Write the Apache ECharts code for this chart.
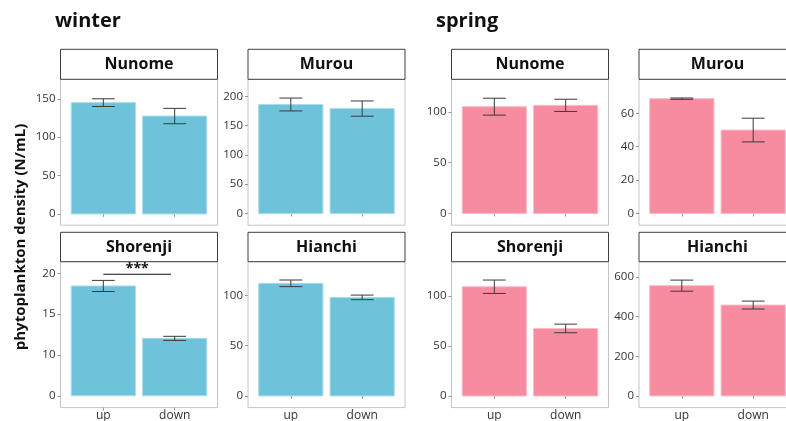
<!DOCTYPE html>
<html><head><meta charset="utf-8">
<script src="https://cdn.jsdelivr.net/npm/echarts@6/dist/echarts.min.js"></script>
<style>html,body{margin:0;padding:0;background:#fff}#c{width:786px;height:421px}</style>
</head><body><div id="c"></div><script>
// ---- data ----
const categories = ['up', 'down'];
const seasons = ['winter', 'spring'];
const sites = ['Nunome', 'Murou', 'Shorenji', 'Hianchi'];
const yTitle = 'phytoplankton density (N/mL)';

const winterUp = [145, 186, 18.45, 112];
const winterDown = [127.5, 179, 12.03, 98];
const winterUpErr = [5, 11, 0.68, 3.3];
const winterDownErr = [10, 13, 0.25, 2.3];

const springUp = [105, 68.8, 109, 557];
const springDown = [106.3, 50, 67.4, 459];
const springUpErr = [8.3, 0.4, 6.7, 28];
const springDownErr = [6, 7.1, 4.3, 20];

// y scale limits per panel (as drawn)
const winterYMin = [-14.7, -20, 3.55, -11.6];
const winterYMax = [175.4, 229, 21.42, 133.5];
const springYMin = [-11.5, -7, -11.6, -59];
const springYMax = [131.9, 80.4, 134, 678];

// bar baselines (winter Shorenji axis starts at the tick labelled "0")
const winterBase = [0, 0, 5, 0];
const springBase = [0, 0, 0, 0];

// tick values and their labels
const winterTicks = [[0, 50, 100, 150], [0, 50, 100, 150, 200], [5, 10, 15, 20], [0, 50, 100]];
const winterTickLabels = [['0', '50', '100', '150'], ['0', '50', '100', '150', '200'], ['0', '10', '15', '20'], ['0', '50', '100']];
const springTicks = [[0, 50, 100], [0, 20, 40, 60], [0, 50, 100], [0, 200, 400, 600]];
const springTickLabels = [['0', '50', '100'], ['0', '20', '40', '60'], ['0', '50', '100'], ['0', '200', '400', '600']];

// significance annotation (winter Shorenji)
const sigLabel = '***';
const sigFrom = 1.0, sigTo = 1.95, sigY = 19.88;

// ---- layout / style ----
const colLeft = [60.5, 248, 451.5, 639];
const panelW = 157;
const rowTop = [79.3, 261.7];
const panelH = 145.9;
const stripTop = [49.3, 232.3];
const seasonColor = ['#6EC3DB', '#F78BA0'];
const seasonEdge = ['#a9dcea', '#fbbcc8'];
const FONT = 'Open Sans';

const chart = echarts.init(document.getElementById('c'));
const grids = [], xAxes = [], yAxes = [], series = [], graphics = [];

const D = {
  winter: {up: winterUp, down: winterDown, upE: winterUpErr, downE: winterDownErr, min: winterYMin, max: winterYMax, base: winterBase, ticks: winterTicks, labels: winterTickLabels},
  spring: {up: springUp, down: springDown, upE: springUpErr, downE: springDownErr, min: springYMin, max: springYMax, base: springBase, ticks: springTicks, labels: springTickLabels}
};

seasons.forEach((season, si) => {
  const d = D[season];
  sites.forEach((site, k) => {
    const r = Math.floor(k / 2), c = k % 2;
    const gi = grids.length;
    const left = colLeft[si * 2 + c], top = rowTop[r];
    grids.push({left: left, top: top, width: panelW, height: panelH, show: true,
      borderColor: '#c4c4c4', borderWidth: 1, backgroundColor: '#fff', containLabel: false,
      outerBoundsMode: 'none'});
    xAxes.push({type: 'value', gridIndex: gi, min: 0.4, max: 2.6,
      axisLine: {show: false}, splitLine: {show: false},
      axisTick: {show: true, customValues: [1, 2], length: 3, lineStyle: {color: '#9a9a9a', width: 1}},
      axisLabel: {show: r === 1, customValues: [1, 2], formatter: v => categories[Math.round(v) - 1],
        color: '#333', fontFamily: FONT, fontSize: 12, margin: 2}});
    const ticks = d.ticks[k], labs = d.labels[k];
    yAxes.push({type: 'value', gridIndex: gi, min: d.min[k], max: d.max[k],
      axisLine: {show: false}, splitLine: {show: false},
      axisTick: {show: true, customValues: ticks, length: 3, lineStyle: {color: '#9a9a9a', width: 1}},
      axisLabel: {show: true, customValues: ticks, formatter: v => labs[ticks.indexOf(v)],
        color: '#333', fontFamily: FONT, fontSize: 11.5, margin: 5}});
    const base = d.base[k];
    const rows = [[1, d.up[k], d.upE[k]], [2, d.down[k], d.downE[k]]];
    series.push({type: 'custom', xAxisIndex: gi, yAxisIndex: gi, data: rows,
      renderItem: (params, api) => {
        const x = api.value(0), v = api.value(1);
        const p0 = api.coord([x - 0.45, base]);
        const p1 = api.coord([x + 0.45, v]);
        return {type: 'rect', shape: {x: p0[0], y: p1[1], width: p1[0] - p0[0], height: p0[1] - p1[1]},
          style: {fill: seasonColor[si], stroke: seasonEdge[si], lineWidth: 1}};
      }});
    series.push({type: 'custom', xAxisIndex: gi, yAxisIndex: gi, data: rows, z: 3,
      renderItem: (params, api) => {
        const x = api.value(0), v = api.value(1), e = api.value(2);
        const a = api.coord([x, v + e]), b = api.coord([x, v - e]);
        const l1 = api.coord([x - 0.16, v + e]), r1 = api.coord([x + 0.16, v + e]);
        const l2 = api.coord([x - 0.16, v - e]), r2 = api.coord([x + 0.16, v - e]);
        const st = {stroke: '#3a3a3a', lineWidth: 1};
        return {type: 'group', children: [
          {type: 'line', shape: {x1: a[0], y1: a[1], x2: b[0], y2: b[1]}, style: st},
          {type: 'line', shape: {x1: l1[0], y1: l1[1], x2: r1[0], y2: r1[1]}, style: st},
          {type: 'line', shape: {x1: l2[0], y1: l2[1], x2: r2[0], y2: r2[1]}, style: st}
        ]};
      }});
    if (season === 'winter' && site === 'Shorenji') {
      series.push({type: 'custom', xAxisIndex: gi, yAxisIndex: gi, data: [[sigFrom, sigTo, sigY]], z: 4,
        renderItem: (params, api) => {
          const a = api.coord([api.value(0), api.value(2)]), b = api.coord([api.value(1), api.value(2)]);
          return {type: 'group', children: [
            {type: 'line', shape: {x1: a[0], y1: a[1], x2: b[0], y2: b[1]}, style: {stroke: '#111', lineWidth: 1.2}},
            {type: 'text', x: (a[0] + b[0]) / 2, y: a[1] + 2, style: {text: sigLabel, align: 'center', verticalAlign: 'bottom',
              font: 'bold 14px "' + FONT + '"', fill: '#111'}}
          ]};
        }});
    }
    // strip
    const sh = r === 0 ? 30 : 29.4;
    graphics.push({type: 'rect', shape: {x: left, y: stripTop[r], width: panelW, height: sh},
      style: {fill: '#fff', stroke: '#3d3d3d', lineWidth: 1}});
    graphics.push({type: 'text', x: left + panelW / 2, y: stripTop[r] + sh / 2 + 0.5,
      style: {text: site, align: 'center', verticalAlign: 'middle', font: 'bold 16px "' + FONT + '"', fill: '#111'}});
  });
});

graphics.push({type: 'text', x: 55, y: 21, style: {text: seasons[0], align: 'left', verticalAlign: 'middle', font: 'bold 20px "' + FONT + '"', fill: '#111'}});
graphics.push({type: 'text', x: 436, y: 21, style: {text: seasons[1], align: 'left', verticalAlign: 'middle', font: 'bold 20px "' + FONT + '"', fill: '#111'}});
graphics.push({type: 'text', x: 21, y: 237, rotation: Math.PI / 2,
  style: {text: yTitle, align: 'center', verticalAlign: 'middle', font: 'bold 15px "' + FONT + '"', fill: '#111'}});

chart.setOption({
  backgroundColor: '#fff',
  animation: false,
  grid: grids, xAxis: xAxes, yAxis: yAxes, series: series,
  graphic: {elements: graphics}
});
</script></body></html>
